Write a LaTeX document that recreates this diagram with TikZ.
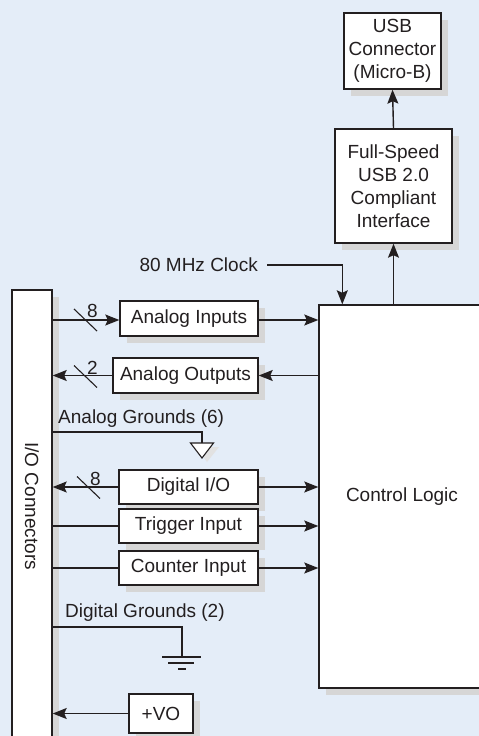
\documentclass[tikz,border=0pt]{standalone}
\usepackage{fontspec}
\setmainfont{Liberation Sans}
\usetikzlibrary{arrows.meta,shadows}
\definecolor{bgblue}{RGB}{228,237,248}
\definecolor{shade}{RGB}{214,214,214}
\definecolor{ink}{RGB}{35,31,32}
\tikzset{
  blk/.style={draw=ink,line width=1.4pt,fill=white,inner sep=0pt,align=center,
    text=ink,drop shadow={shadow xshift=7pt,shadow yshift=-7pt,fill=shade,opacity=1}},
  arr/.style={draw=ink,line width=1.4pt,-{Stealth[length=14pt,width=11pt,inset=2.5pt]}},
  wire/.style={draw=ink,line width=1.4pt},
  thinw/.style={draw=ink,line width=1.1pt},
  lbl/.style={text=ink,inner sep=0pt}
}
\begin{document}
\begin{tikzpicture}[x=1pt,y=-1pt,font=\fontsize{19}{23}\selectfont]
  \useasboundingbox (0,0) rectangle (479,736);
  \clip (0,0) rectangle (479,736);
  \fill[bgblue] (0,0) rectangle (479,736);
  % blocks
  \node[blk,minimum width=40pt,minimum height=480pt] (io) at (32,530) {};
  \node[lbl,rotate=-90] (iotext) at (32,506) {I/O Connectors};
  \node[blk,minimum width=166pt,minimum height=383pt] (cl) at (402,496.5) {Control Logic};
  \node[blk,minimum width=97pt,minimum height=76pt] (usb) at (392.5,51) {USB\\Connector\\(Micro-B)};
  \node[blk,minimum width=117pt,minimum height=114pt] (fs) at (393.5,186) {Full-Speed\\USB 2.0\\Compliant\\Interface};
  \node[blk,minimum width=138pt,minimum height=35pt] (ai) at (189,318.5) {Analog Inputs};
  \node[blk,minimum width=145pt,minimum height=35pt] (ao) at (185.5,375.5) {Analog Outputs};
  \node[blk,minimum width=139pt,minimum height=34pt] (dio) at (188.5,487) {Digital I/O};
  \node[blk,minimum width=139pt,minimum height=34pt] (trig) at (188.5,526) {Trigger Input};
  \node[blk,minimum width=139pt,minimum height=34pt] (cnt) at (188.5,568) {Counter Input};
  \node[blk,minimum width=64pt,minimum height=39pt] (vo) at (161,713.5) {+VO};
  \node[lbl,anchor=east] (clk) at (258,265) {80 MHz Clock};
  \node[lbl,anchor=west] (agnd) at (58,419) {Analog Grounds (6)};
  \node[lbl,anchor=west] (dgnd) at (65,613) {Digital Grounds (2)};
  % usb path
  \draw[arr] (fs.north) -- (usb.south);
  \draw[arr] (cl.north -| fs.south) -- (fs.south);
  \coordinate (clkin) at ([xshift=24pt]cl.north west);
  \draw[arr] ([xshift=9pt]clk.east) -| (clkin);
  % analog
  \draw[arr] (io.east |- 0,320) -- (ai.west |- 0,320);
  \draw[arr] (ai.east |- 0,320) -- (cl.west |- 0,320);
  \draw[arr] (cl.west |- ao.east) -- (ao.east);
  \draw[arr] (ao.west) -- (io.east |- ao.west);
  % digital
  \draw[arr] (dio.west) -- (io.east |- dio.west);
  \draw[arr] (dio.east) -- (cl.west |- dio.east);
  \draw[wire] (io.east |- trig.west) -- (trig.west);
  \draw[arr] (trig.east) -- (cl.west |- trig.east);
  \draw[wire] (io.east |- cnt.west) -- (cnt.west);
  \draw[arr] (cnt.east) -- (cl.west |- cnt.east);
  \draw[arr] (vo.west) -- (io.east |- vo.west);
  % bus widths
  \foreach \bx/\by/\bn in {85.5/320/8, 85.5/376.5/2, 88.5/487.5/8}{
    \draw[thinw] (\bx-11.5,\by-11) -- (\bx+11.5,\by+11);
    \node[lbl] at (\bx+7,\by-9) {\bn};
  }
  % analog ground
  \draw[wire] (io.east |- 0,432) -| (202,443);
  \fill[shade!70] (196,447) -- (219,447) -- (207,462) -- cycle;
  \draw[thinw,fill=white] (190.5,443) -- (213.5,443) -- (202,458) -- cycle;
  % digital ground
  \draw[wire] (io.east |- 0,627) -| (182,657);
  \draw[thinw] (162,657) -- (201,657);
  \draw[thinw] (168,663) -- (194,663);
  \draw[thinw] (178,669) -- (186,669);
\end{tikzpicture}
\end{document}
